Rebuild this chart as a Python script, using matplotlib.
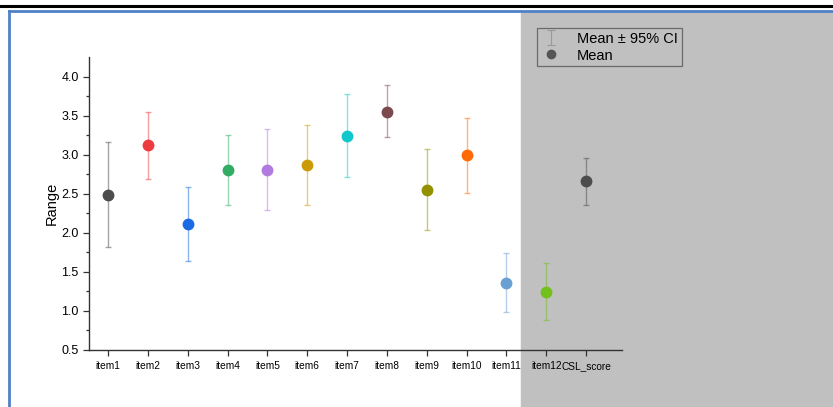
import matplotlib
matplotlib.use("Agg")
import matplotlib.pyplot as plt
from matplotlib.patches import Rectangle
from matplotlib.lines import Line2D
import numpy as np

# values
items = ["item1", "item2", "item3", "item4", "item5", "item6", "item7",
         "item8", "item9", "item10", "item11", "item12", "CSL_score"]
means = [2.49, 3.12, 2.11, 2.80, 2.80, 2.87, 3.24, 3.55, 2.55, 2.99, 1.36, 1.24, 2.66]
ci_low = [1.82, 2.69, 1.64, 2.36, 2.29, 2.36, 2.71, 3.23, 2.04, 2.51, 0.98, 0.88, 2.36]
ci_high = [3.16, 3.55, 2.59, 3.25, 3.33, 3.38, 3.78, 3.89, 3.07, 3.47, 1.74, 1.61, 2.96]

colors = ["#4d4d4d", "#ee3b3f", "#1b6ae3", "#33ac63", "#b27be0", "#cc9a06",
          "#10c8cc", "#7b4a4c", "#959000", "#ff6a06", "#6a9fd4", "#72c01a", "#4d4d4d"]

plt.rcParams['font.family'] = ['Liberation Sans', 'DejaVu Sans']

fig = plt.figure(figsize=(8.33, 4.07), dpi=100)

# screenshot frame: black rule, blue border, grey page area on the right
fig.add_artist(Line2D([0, 1], [1 - 6 / 407, 1 - 6 / 407], color="black", lw=2.2,
                      transform=fig.transFigure))
fig.add_artist(Rectangle((521 / 833, 0), 1 - 521 / 833, 1 - 11 / 407,
                         transform=fig.transFigure, color="#c0c0c0", zorder=0))
fig.add_artist(Line2D([9 / 833, 9 / 833], [0, 1 - 11 / 407], color="#4f81c7", lw=2,
                      transform=fig.transFigure))
fig.add_artist(Line2D([9 / 833, 1], [1 - 11 / 407, 1 - 11 / 407], color="#4f81c7", lw=2,
                      transform=fig.transFigure))

ax = fig.add_axes([89 / 833, 57 / 407, (622 - 89) / 833, (350 - 57) / 407])
ax.patch.set_alpha(0)

x = np.arange(1, len(items) + 1)
m = np.array(means)
lo = m - np.array(ci_low)
hi = np.array(ci_high) - m
for i in range(len(items)):
    ax.errorbar(x[i], m[i], yerr=[[lo[i]], [hi[i]]], fmt='none', ecolor=colors[i],
                alpha=0.5, elinewidth=1.0, capsize=2.5, capthick=1.0, zorder=2)
    ax.plot(x[i], m[i], 'o', color=colors[i], markersize=7.5, zorder=3)

ax.set_xlim(0.52, 13.9)
ax.set_ylim(0.5, 4.25)
ax.set_xticks(x)
ax.set_xticklabels(items, fontsize=7.3)
ax.set_yticks([0.5, 1.0, 1.5, 2.0, 2.5, 3.0, 3.5, 4.0])
ax.set_yticklabels(["0.5", "1.0", "1.5", "2.0", "2.5", "3.0", "3.5", "4.0"], fontsize=9)
ax.set_yticks(np.arange(0.75, 4.25, 0.5), minor=True)
ax.tick_params(axis='both', direction='out', length=4, width=0.9, color="#333333")
ax.tick_params(axis='y', which='minor', length=2.5, width=0.9, color="#333333")
ax.tick_params(axis='x', pad=4)
for s in ["top", "right"]:
    ax.spines[s].set_visible(False)
for s in ["left", "bottom"]:
    ax.spines[s].set_color("#333333")
    ax.spines[s].set_linewidth(1.0)
ax.set_ylabel("Range", fontsize=10.5, labelpad=2)

h_ci = ax.errorbar(np.nan, np.nan, yerr=1, fmt='none', ecolor="#8a8a8a", alpha=0.7,
                   elinewidth=0.8, capsize=3, capthick=0.8)
h_mean = Line2D([], [], marker='o', linestyle='none', color="#555555", markersize=6)
leg = fig.legend([h_ci, h_mean], ["Mean \u00b1 95% CI", "Mean"],
                 loc="upper left", bbox_to_anchor=(537 / 833, 1 - 28 / 407),
                 fontsize=10.5, frameon=True, fancybox=False, borderpad=0.25,
                 handlelength=1.4, handletextpad=1.1, labelspacing=0.2,
                 borderaxespad=0)
leg.get_frame().set_edgecolor("#555555")
leg.get_frame().set_facecolor("#c0c0c0")
leg.get_frame().set_linewidth(0.9)

fig.savefig("out.png", dpi=100)
